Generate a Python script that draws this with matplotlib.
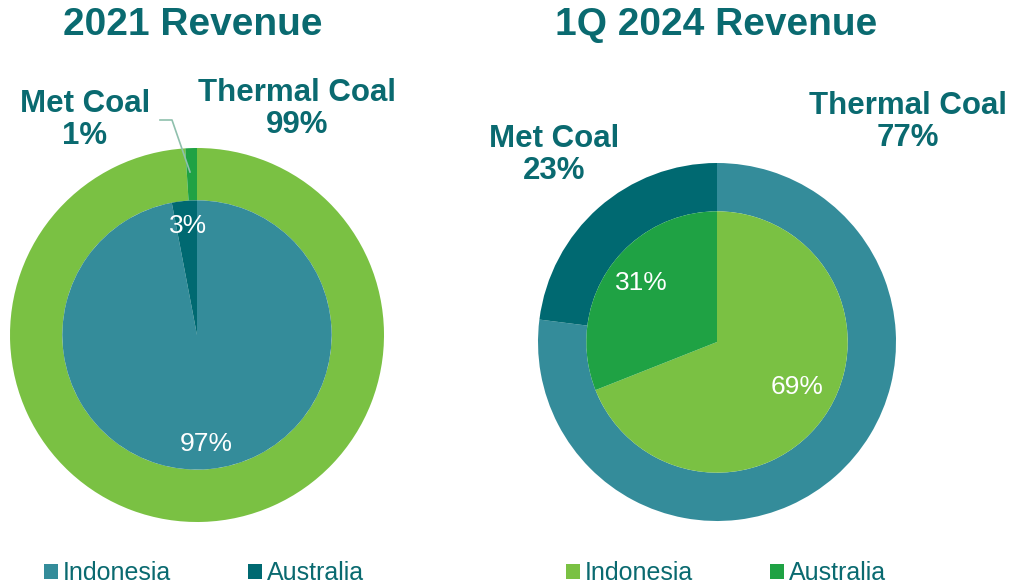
import matplotlib.pyplot as plt
from matplotlib.patches import Patch

plt.rcParams['font.family'] = ['Liberation Sans', 'DejaVu Sans']

W, H = 1013, 584

# data
titles = ['2021 Revenue', '1Q 2024 Revenue']
coal_types = ['Thermal Coal', 'Met Coal']
regions = ['Indonesia', 'Australia']
coal_2021 = [99, 1]
region_2021 = [97, 3]
coal_2024 = [77, 23]
region_2024 = [69, 31]

LGREEN = '#7ac143'
GREEN = '#1fa244'
TEAL = '#348c9a'
DTEAL = '#006971'
TXT = '#0a6a70'

fig = plt.figure(figsize=(W / 100, H / 100), dpi=100)


def px_axes(cx, cy, r):
    # square axes centred on pixel (cx, cy), radius r px
    ax = fig.add_axes([(cx - r) / W, (H - cy - r) / H, 2 * r / W, 2 * r / H])
    return ax


def ftext(x, y, s, **kw):
    fig.text(x / W, 1 - y / H, s, ha='center', va='center', **kw)


charts = [
    dict(cx=197, cy=335, r=187, inner=0.72, outer_vals=coal_2021, inner_vals=region_2021,
         outer_cols=[LGREEN, GREEN], inner_cols=[TEAL, DTEAL]),
    dict(cx=717, cy=342, r=179, inner=0.73, outer_vals=coal_2024, inner_vals=region_2024,
         outer_cols=[TEAL, DTEAL], inner_cols=[LGREEN, GREEN]),
]

axes = []
for c in charts:
    ax = px_axes(c['cx'], c['cy'], c['r'])
    ax.pie(c['outer_vals'], radius=1, colors=c['outer_cols'], startangle=90,
           counterclock=False, wedgeprops=dict(width=1 - c['inner'], linewidth=0))
    wedges, _, autotexts = ax.pie(
        c['inner_vals'], radius=c['inner'], colors=c['inner_cols'], startangle=90,
        counterclock=False, wedgeprops=dict(linewidth=0),
        autopct='%d%%', pctdistance=0.82,
        textprops=dict(color='white', fontsize=19))
    # pie() resets limits, so set them afterwards
    ax.set_xlim(-1, 1)
    ax.set_ylim(-1, 1)
    ax.set_aspect('equal')
    ax.axis('off')
    axes.append((ax, wedges, autotexts))

# place inner percentage labels as in the reference
inner_pos = [[(206, 444), (188, 226)], [(797, 387), (641, 283)]]
for (ax, wedges, autotexts), pos in zip(axes, inner_pos):
    for t, (x, y) in zip(autotexts, pos):
        t.set_transform(fig.transFigure)
        t.set_position((x / W, 1 - y / H))

# titles
ftext(193, 25, titles[0], fontsize=28, fontweight='bold', color=TXT)
ftext(716, 25, titles[1], fontsize=28, fontweight='bold', color=TXT)

# outer ring labels
lab = dict(fontsize=22.5, fontweight='bold', color=TXT, linespacing=1.05)
ftext(85, 120, f'{coal_types[1]}\n{coal_2021[1]}%', **lab)
ftext(297, 109, f'{coal_types[0]}\n{coal_2021[0]}%', **lab)
ftext(554, 155, f'{coal_types[1]}\n{coal_2024[1]}%', **lab)
ftext(908, 122, f'{coal_types[0]}\n{coal_2024[0]}%', **lab)

# leader line for met coal 1%
fig.add_artist(plt.Line2D([160 / W, 172 / W, 190 / W],
                          [1 - 120 / H, 1 - 120 / H, 1 - 172 / H],
                          transform=fig.transFigure, color='#8fc0ad', lw=1.2))

# legends
for c, lx in zip(charts, [204, 726]):
    handles = [Patch(facecolor=col, edgecolor='none') for col in c['inner_cols']]
    fig.legend(handles, regions, loc='center', bbox_to_anchor=(lx / W, 1 - 573 / H),
               ncol=2, frameon=False, fontsize=18, labelcolor=TXT,
               handlelength=0.55, handleheight=0.55, handletextpad=0.2,
               columnspacing=3.1, borderpad=0, borderaxespad=0)

fig.savefig('out.png', dpi=100)
